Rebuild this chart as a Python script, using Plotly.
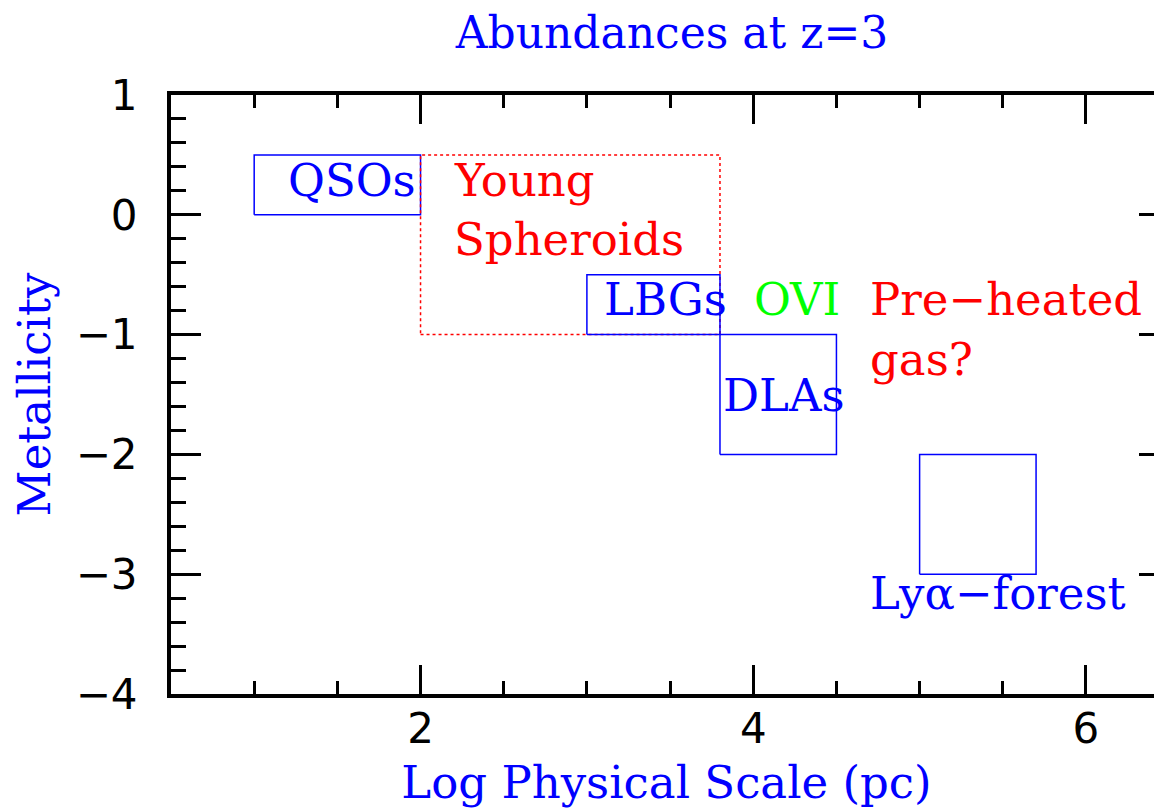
import plotly.graph_objects as go

# ---- data ----
regions = ["QSOs", "Young Spheroids", "LBGs", "DLAs", "Lyα-forest"]
scale_lo = [1.0, 2.0, 3.0, 3.8, 5.0]
scale_hi = [2.0, 3.8, 3.8, 4.5, 5.7]
metal_lo = [0.0, -1.0, -1.0, -2.0, -3.0]
metal_hi = [0.5, 0.5, -0.5, -1.0, -2.0]
region_colors = ["#0000ff", "#ff0000", "#0000ff", "#0000ff", "#0000ff"]
region_dash = ["solid", "dot", "solid", "solid", "solid"]

labels = ["QSOs", "Young", "Spheroids", "LBGs", "OVI", "Pre\u2212heated", "gas?", "DLAs", "Ly\u03b1\u2212forest"]
label_x = [1.19, 2.187, 2.187, 3.09, 3.99, 4.688, 4.688, 3.805, 4.692]
label_y = [0.29, 0.29, -0.205, -0.71, -0.71, -0.71, -1.207, -1.508, -3.165]
label_colors = ["#0000ff", "#ff0000", "#ff0000", "#0000ff", "#00ff00", "#ff0000", "#ff0000", "#0000ff", "#0000ff"]

x_ticks = [2, 4, 6]
y_ticks = [1, 0, -1, -2, -3, -4]

SERIF = "DejaVu Serif"
SANS = "DejaVu Sans"
FS = 45

# the page body adds an 8px margin, so the figure is 8px smaller than the window
W, H = 1154, 801

fig = go.Figure()

for name, x0, x1, y0, y1, c, d in zip(regions, scale_lo, scale_hi, metal_lo, metal_hi, region_colors, region_dash):
    fig.add_trace(go.Scatter(
        x=[x0, x1, x1, x0, x0], y=[y0, y0, y1, y1, y0],
        mode="lines", line=dict(color=c, width=1.5, dash=d),
        name=name, showlegend=False, hoverinfo="skip"))

# invisible trace to carry the right-hand tick axis
fig.add_trace(go.Scatter(x=[], y=[], yaxis="y2", showlegend=False, hoverinfo="skip"))

for t, x, y, c in zip(labels, label_x, label_y, label_colors):
    fig.add_annotation(x=x, y=y, xref="x", yref="y", text=t, showarrow=False,
                       xanchor="left", yanchor="middle",
                       font=dict(family=SERIF, size=FS, color=c))

fig.update_layout(
    width=W, height=H,
    margin=dict(l=163, r=0, t=87, b=115),
    paper_bgcolor="white", plot_bgcolor="white",
    showlegend=False,
    title=dict(text="Abundances at z=3", x=664 / W, xref="container", xanchor="center",
               y=1 - 25 / H, yref="container", yanchor="middle",
               font=dict(family=SERIF, size=44, color="#0000ff")),
    xaxis=dict(range=[0.5, 6.457], tickvals=x_ticks, ticks="inside", ticklen=29, tickwidth=3,
               tickcolor="black", showline=True, linewidth=4, linecolor="black", mirror="ticks",
               showgrid=False, zeroline=False, ticklabelstandoff=-5, automargin=False,
               tickfont=dict(family=SANS, size=42, color="black"),
               minor=dict(dtick=0.5, tick0=0, ticks="inside", ticklen=13, tickwidth=3, tickcolor="black", showgrid=False),
               title=dict(text="Log Physical Scale (pc)", standoff=32,
                          font=dict(family=SERIF, size=FS, color="#0000ff"))),
    yaxis=dict(range=[-4, 1], tickvals=y_ticks, ticks="inside", ticklen=30, tickwidth=3,
               tickcolor="black", showline=True, linewidth=4, linecolor="black", mirror=False,
               showgrid=False, zeroline=False, ticklabelstandoff=21, automargin=False,
               tickfont=dict(family=SANS, size=42, color="black"),
               minor=dict(dtick=0.2, tick0=0, ticks="inside", ticklen=15, tickwidth=3, tickcolor="black", showgrid=False),
               title=dict(text="Metallicity", standoff=24,
                          font=dict(family=SERIF, size=FS, color="#0000ff"))),
    yaxis2=dict(range=[-4, 1], overlaying="y", side="right", anchor="x",
                tickvals=y_ticks, ticks="inside", ticklen=23, tickwidth=3, tickcolor="black",
                showticklabels=False, showline=False, showgrid=False, zeroline=False, automargin=False,
                minor=dict(dtick=0.2, tick0=0, ticks="inside", ticklen=7, tickwidth=3, tickcolor="black", showgrid=False)),
)

fig.write_html("out.html")
